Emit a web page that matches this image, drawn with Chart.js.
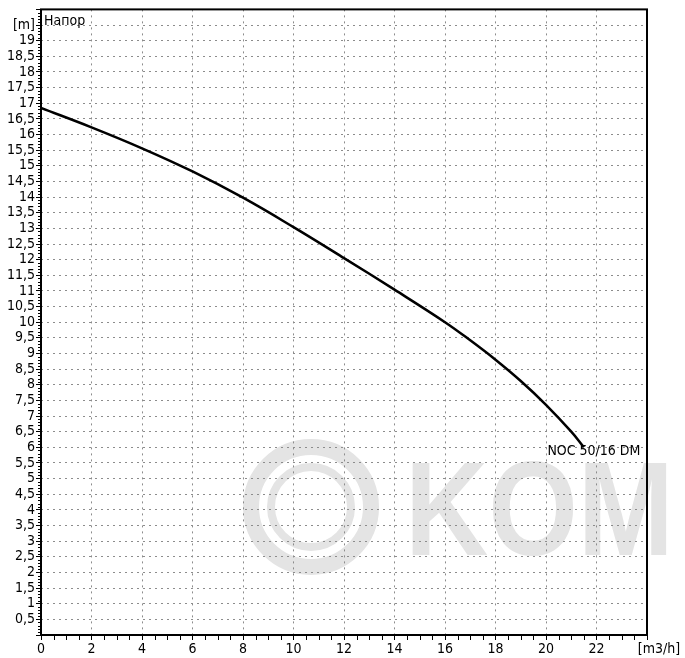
<!DOCTYPE html>
<html>
<head>
<meta charset="utf-8">
<script src="https://cdn.jsdelivr.net/npm/chart.js@4/dist/chart.umd.min.js"></script>
<style>
    body { margin: 0; background: #fff; }
    #wrap { width: 685px; height: 658px; position: relative; }
</style>
</head>
<body>
<div id="wrap"><canvas id="curva"></canvas></div>
<script>
// Datos de la curva (caudal m3/h -> altura m)
const caudal = [0, 2, 4, 6, 8, 10, 12, 14, 16, 17, 18, 19, 20, 21, 21.5];
const altura = [16.85, 16.23, 15.56, 14.82, 13.98, 13.04, 12.05, 11.04, 10.0, 9.42, 8.8, 8.12, 7.36, 6.5, 6.0];
const nombreBomba = 'NOC 50/16 DM';
const tituloY = 'Напор';
const unidadX = '[m3/h]';
const unidadY = '[m]';
const xMax = 24, xPaso = 2, xMenor = 0.5;
const yMax = 20, yPaso = 0.5, yMenor = 0.1;

const fuente = 'DejaVu Sans Condensed';

function esMultiplo(v, paso) {
    const r = v / paso;
    return Math.abs(r - Math.round(r)) < 1e-6;
}

// Marca de agua, marco, ticks menores y textos
const extras = {
    id: 'extras',
    beforeDraw(chart) {
        const { ctx } = chart;
        ctx.save();
        ctx.strokeStyle = '#e4e4e4';
        ctx.fillStyle = '#e4e4e4';
        ctx.lineWidth = 16;
        ctx.beginPath();
        ctx.arc(311, 507, 60, 0, Math.PI * 2);
        ctx.stroke();
        ctx.lineWidth = 8;
        ctx.beginPath();
        ctx.arc(311, 507, 40, 0, Math.PI * 2);
        ctx.stroke();
        ctx.translate(405, 555);
        ctx.scale(0.86, 1);
        ctx.font = 'bold 134px "Liberation Sans"';
        ctx.textBaseline = 'alphabetic';
        ctx.fillText('KOM', 0, 0);
        ctx.restore();
    },
    afterDatasetsDraw(chart) {
        const { ctx, chartArea: a, scales: { x, y } } = chart;
        ctx.save();
        // marco
        ctx.strokeStyle = '#000';
        ctx.lineWidth = 2;
        ctx.strokeRect(a.left, a.top, a.right - a.left, a.bottom - a.top);

        // ticks menores
        ctx.lineWidth = 1;
        ctx.beginPath();
        for (let v = 0; v <= yMax + 1e-6; v += yMenor) {
            if (esMultiplo(v, yPaso)) continue;
            const py = Math.round(y.getPixelForValue(v)) + 0.5;
            ctx.moveTo(a.left - 3, py);
            ctx.lineTo(a.left, py);
        }
        for (let v = 0; v <= xMax + 1e-6; v += xMenor) {
            if (esMultiplo(v, xPaso)) continue;
            const px = Math.round(x.getPixelForValue(v)) + 0.5;
            ctx.moveTo(px, a.bottom);
            ctx.lineTo(px, a.bottom + 5);
        }
        ctx.stroke();

        // textos
        ctx.fillStyle = '#000';
        ctx.font = '14px "' + fuente + '"';
        ctx.textBaseline = 'middle';
        ctx.textAlign = 'left';
        ctx.fillText(tituloY, a.left + 3, a.top + 12);

        const ultimo = caudal.length - 1;
        const ex = x.getPixelForValue(caudal[ultimo]);
        const ey = y.getPixelForValue(altura[ultimo]);
        ctx.textAlign = 'center';
        ctx.fillText(nombreBomba, ex + 10, ey + 4);
        ctx.restore();
    }
};

const ctx = document.getElementById('curva').getContext('2d');
new Chart(ctx, {
    type: 'line',
    data: {
        datasets: [{
            label: nombreBomba,
            data: caudal.map((q, i) => ({ x: q, y: altura[i] })),
            borderColor: '#000',
            borderWidth: 2.5,
            pointRadius: 0,
            fill: false,
            tension: 0.4
        }]
    },
    options: {
        responsive: true,
        maintainAspectRatio: false,
        animation: false,
        devicePixelRatio: 1,
        layout: { padding: { top: 8, right: 38, left: 0, bottom: 0 } },
        plugins: {
            legend: { display: false },
            tooltip: { enabled: false }
        },
        scales: {
            x: {
                type: 'linear',
                min: 0,
                max: xMax,
                afterFit: scale => { scale.height = 23; },
                border: { display: false, dash: [2, 4] },
                grid: {
                    color: c => (c.tick && (c.tick.value === 0 || c.tick.value === xMax)) ? 'rgba(0,0,0,0)' : '#8c8c8c',
                    lineWidth: 1,
                    tickLength: 5,
                    tickColor: '#000',
                    tickWidth: 1
                },
                ticks: {
                    stepSize: xPaso,
                    autoSkip: false,
                    maxRotation: 0,
                    padding: 1,
                    color: '#000',
                    font: { family: fuente, size: 14 },
                    callback: v => v === xMax ? '      ' + unidadX : String(v)
                }
            },
            y: {
                type: 'linear',
                min: 0,
                max: yMax,
                afterFit: scale => { scale.width = 41; },
                border: { display: false, dash: [2, 4] },
                grid: {
                    color: c => (c.tick && (c.tick.value === 0 || c.tick.value === yMax)) ? 'rgba(0,0,0,0)' : '#8c8c8c',
                    lineWidth: 1,
                    tickLength: 5,
                    tickColor: '#000',
                    tickWidth: 1
                },
                ticks: {
                    stepSize: yPaso,
                    autoSkip: false,
                    padding: 1,
                    color: '#000',
                    font: { family: fuente, size: 14 },
                    callback: v => {
                        if (v === 0 || v === yMax) return '';
                        if (v === yMax - yPaso) return unidadY;
                        return String(v).replace('.', ',');
                    }
                }
            }
        }
    },
    plugins: [extras]
});
</script>
</body>
</html>
